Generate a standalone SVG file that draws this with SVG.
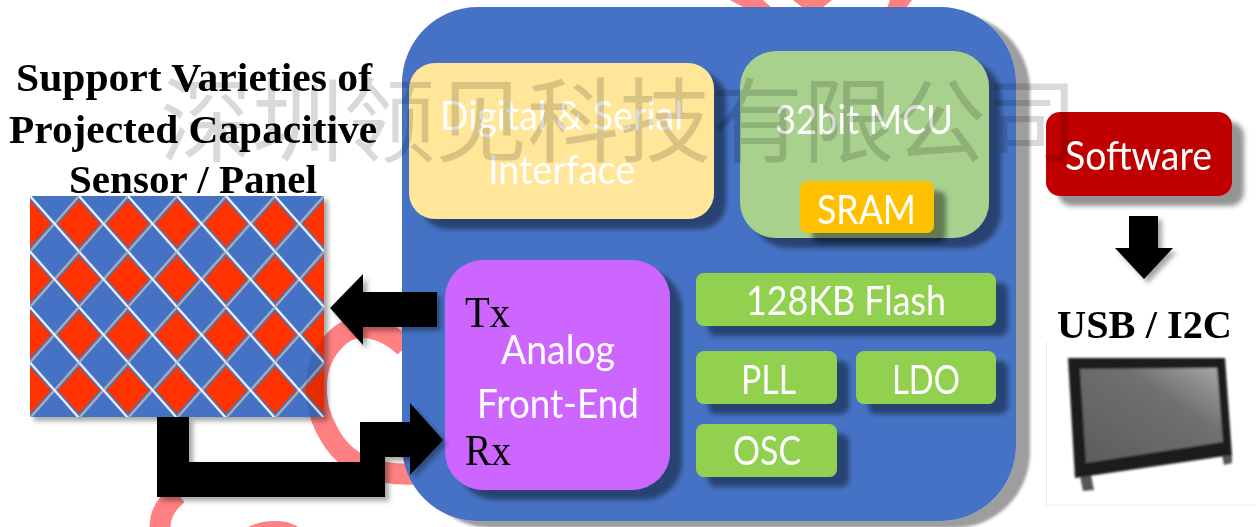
<svg xmlns="http://www.w3.org/2000/svg" width="1256" height="527" viewBox="0 0 1256 527">
<style>
.ring{fill:none;stroke:#ff8080;stroke-width:21}
.pink{fill:#ff8080}
.t{font-family:Lato,"Noto Sans",sans-serif;fill:#fff;font-size:40px;text-anchor:middle;filter:url(#soft)}
.h{font-family:"Liberation Serif",serif;font-weight:bold;fill:#000;font-size:41px;text-anchor:middle;filter:url(#soft)}
.p{font-family:"Liberation Serif",serif;fill:#000;font-size:44px;filter:url(#soft)}
.wm{font-family:"Noto Sans CJK SC",sans-serif;font-size:92px;fill:#000;fill-opacity:.15}
.grn{fill:#92d050}
.s1{filter:url(#sh)}
</style>
<defs>
<filter id="soft" x="-5%" y="-10%" width="110%" height="120%"><feGaussianBlur stdDeviation=".45"/></filter>
<filter id="sh" x="-20%" y="-20%" width="150%" height="150%"><feDropShadow dx="12" dy="10" stdDeviation="2.5" flood-color="#000" flood-opacity=".42"/></filter>
<filter id="shMain" x="-10%" y="-10%" width="120%" height="120%"><feDropShadow dx="14" dy="7" stdDeviation="1.5" flood-color="#000" flood-opacity=".38"/></filter>
<filter id="shS" x="-10%" y="-10%" width="125%" height="125%"><feDropShadow dx="4" dy="4" stdDeviation="2.5" flood-color="#000" flood-opacity=".35"/></filter>
<filter id="shP" x="-10%" y="-10%" width="125%" height="125%"><feGaussianBlur in="SourceGraphic" stdDeviation=".6" result="b"/><feDropShadow in="b" dx="4" dy="4" stdDeviation="2.5" flood-color="#000" flood-opacity=".35"/></filter>
<filter id="mon" x="-5%" y="-5%" width="110%" height="110%"><feGaussianBlur stdDeviation=".8"/></filter>
<pattern id="grid" patternUnits="userSpaceOnUse" x="30" y="196" width="49" height="55.5">
<rect width="49" height="55.5" fill="#4472c4"/>
<path d="M0 4.5 L21 27.75 L0 51Z M49 4.5 L28 27.75 L49 51Z" fill="#ff3300"/>
<path d="M49 0 L0 55.5" stroke="#b0b0b0" stroke-width="2.2" fill="none"/>
<path d="M0 0 L49 55.5" stroke="#f4f4f4" stroke-width="2.2" fill="none"/>
</pattern>
<linearGradient id="scr" x1="0" y1="1" x2="1" y2="0"><stop offset="0" stop-color="#5c5c5c"/><stop offset=".65" stop-color="#707070"/><stop offset="1" stop-color="#a8a8a8"/></linearGradient>
<clipPath id="panelClip"><rect x="30" y="196" width="294" height="221"/></clipPath>
</defs>
<g id="stamp">
<path class="ring" d="M405 347 C385 328 355 318 335 340 C313 362 310 400 328 432 C345 465 375 476 418 474"/>
<path class="pink" d="M730 0 L763 0 L772 8 L745 8Z M793 0 L832 0 L822 8 L803 8Z M890 0 L912 0 L906 8 L887 8Z"/>
<path class="ring" d="M160 527 C160 512 168 502 178 494"/>
<path class="pink" d="M248 527 C256 523 265 521 275 521 C285 521 292 523 298 527Z"/>
</g>
<g id="sensor-panel">
<rect x="30" y="196" width="294" height="221" fill="url(#grid)" filter="url(#shP)"/>
<path d="M405 347 C385 328 355 318 335 340 C313 362 310 400 328 432" clip-path="url(#panelClip)" fill="none" stroke="#000" stroke-opacity=".1" stroke-width="21"/>
</g>
<g id="title">
<text class="h" x="194" y="91" textLength="356" lengthAdjust="spacingAndGlyphs">Support Varieties of</text>
<text class="h" x="193" y="143" textLength="368" lengthAdjust="spacingAndGlyphs">Projected Capacitive</text>
<text class="h" x="193" y="193" textLength="248" lengthAdjust="spacingAndGlyphs">Sensor / Panel</text>
</g>
<g id="chip"><rect x="402" y="7" width="614" height="514" rx="76" fill="#4472c4" filter="url(#shMain)"/></g>
<g id="digital-serial">
<rect class="s1" x="409" y="63" width="305" height="156" rx="26" fill="#ffe699"/>
<text class="t" x="561.5" y="130" textLength="243" lengthAdjust="spacingAndGlyphs">Digital &amp; Serial</text>
<text class="t" x="561.5" y="184" textLength="147" lengthAdjust="spacingAndGlyphs">Interface</text>
</g>
<g id="mcu">
<rect class="s1" x="740" y="51" width="249" height="187" rx="36" fill="#a9d18e"/>
<text class="t" x="864" y="134" textLength="178" lengthAdjust="spacingAndGlyphs">32bit MCU</text>
</g>
<g id="sram">
<rect class="s1" x="800" y="181" width="134" height="52" rx="8" fill="#ffc000"/>
<text class="t" x="866.5" y="224" textLength="99" lengthAdjust="spacingAndGlyphs">SRAM</text>
</g>
<g id="afe">
<rect class="s1" x="445" y="260" width="225" height="230" rx="38" fill="#cc66ff"/>
<text class="t" x="558" y="364" textLength="114" lengthAdjust="spacingAndGlyphs">Analog</text>
<text class="t" x="558" y="418" textLength="162" lengthAdjust="spacingAndGlyphs">Front-End</text>
<text class="p" x="465" y="327" textLength="45" lengthAdjust="spacingAndGlyphs">Tx</text>
<text class="p" x="465" y="465" textLength="46" lengthAdjust="spacingAndGlyphs">Rx</text>
</g>
<g id="flash">
<rect class="s1 grn" x="696" y="273" width="300" height="53" rx="8"/>
<text class="t" x="846" y="315" textLength="200" lengthAdjust="spacingAndGlyphs">128KB Flash</text>
</g>
<g id="pll">
<rect class="s1 grn" x="696" y="351" width="141" height="53" rx="8"/>
<text class="t" x="768.5" y="394" textLength="55" lengthAdjust="spacingAndGlyphs">PLL</text>
</g>
<g id="ldo">
<rect class="s1 grn" x="856" y="351" width="140" height="53" rx="8"/>
<text class="t" x="926" y="394" textLength="68" lengthAdjust="spacingAndGlyphs">LDO</text>
</g>
<g id="osc">
<rect class="s1 grn" x="696" y="424" width="141" height="53" rx="8"/>
<text class="t" x="767" y="465" textLength="68" lengthAdjust="spacingAndGlyphs">OSC</text>
</g>
<g id="software">
<rect x="1046" y="112" width="186" height="84" rx="14" fill="#c00000" filter="url(#sh)"/>
<text class="t" x="1138.5" y="170" textLength="147" lengthAdjust="spacingAndGlyphs">Software</text>
</g>
<g id="usb-monitor">
<path d="M1046.5 342 V505 H1256" fill="none" stroke="#ececec"/>
<text class="h" x="1144.5" y="338" textLength="175" lengthAdjust="spacingAndGlyphs">USB / I2C</text>
<g filter="url(#mon)">
<path d="M1080 476 L1091 475 L1094 490 L1083 491Z M1222 455 L1232 453 L1232 463 L1224 465Z" fill="#555"/>
<path d="M1068 358 L1225 358 L1232 455 L1075 478Z" fill="#1f1f1f"/>
<path d="M1080 369 L1217 368 L1223 442 L1086 463Z" fill="url(#scr)"/>
</g>
</g>
<g id="connectors">
<path filter="url(#shS)" d="M330 308 L363 274 L363 292 L437 292 L437 327 L363 327 L363 345Z" fill="#000"/>
<path filter="url(#shS)" d="M157 417 L189 417 L189 462 L360 462 L360 422 L410 422 L410 403 L443 440 L410 475 L410 457 L385 457 L385 497 L157 497Z" fill="#000"/>
<path filter="url(#shS)" d="M1129 216 L1158 216 L1158 248 L1173 248 L1144 279 L1115 248 L1129 248Z" fill="#000"/>
</g>
<g id="watermark"><text class="wm" x="160" y="155" textLength="918" lengthAdjust="spacing">深圳领见科技有限公司</text></g>
</svg>
